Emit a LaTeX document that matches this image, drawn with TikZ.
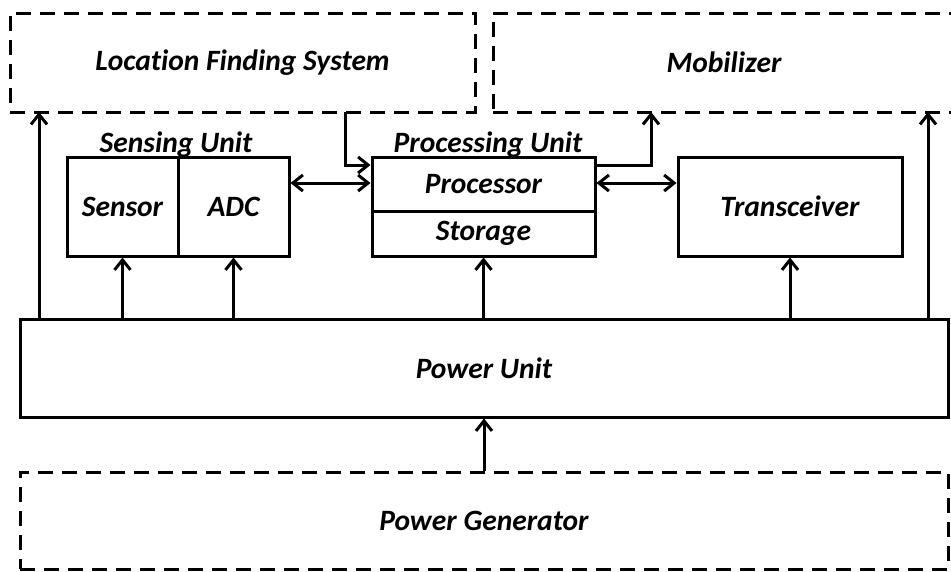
\documentclass[tikz,border=0pt]{standalone}
\usepackage{fontspec}
\setmainfont[Ligatures=NoCommon]{Carlito}
\usetikzlibrary{arrows.meta}
\begin{document}
\begin{tikzpicture}[x=1pt,y=-1pt, line width=3pt,
  txt/.style={font=\bfseries\itshape\fontsize{29.5}{34}\selectfont},
  box/.style={draw, rectangle, inner sep=0pt, txt},
  dbox/.style={box, dash pattern=on 15pt off 9pt},
  tip/.tip={Straight Barb[length=10pt,width=16pt,line width=3pt]},
  arr/.style={-tip},
  darr/.style={tip-tip}]
\useasboundingbox (0,0) rectangle (951,571);
% outer dashed units
\node[dbox, minimum width=465pt, minimum height=99pt] (lfs) at (242.5,62.5) {Location Finding System};
\node[dbox, minimum width=462pt, minimum height=99pt] (mob) at (724,62.5) {Mobilizer};
\node[dbox, minimum width=928pt, minimum height=97pt] (pg) at (484,520.5) {Power Generator};
% inner units
\node[box, minimum width=111pt, minimum height=99pt] (sensor) at (122.5,206.5) {Sensor};
\node[box, minimum width=111pt, minimum height=99pt] (adc) at (233.5,206.5) {ADC};
\node[box, minimum width=223pt, minimum height=54pt] (proc) at (483.5,184) {Processor};
\node[box, minimum width=223pt, minimum height=45pt] (stor) at (483.5,233.5) {Storage};
\node[box, minimum width=224pt, minimum height=99pt] (trx) at (790,206.5) {Transceiver};
\node[box, minimum width=928pt, minimum height=98pt] (pu) at (484,368) {Power Unit};
% group labels
\node[txt, anchor=base, inner sep=0pt] (senslbl) at (176,152) {Sensing Unit};
\node[txt, anchor=base, inner sep=0pt] (proclbl) at (488,152) {Processing Unit};
% connector points
\coordinate (lfsout) at (345,112);
\coordinate (lfsin) at (39,112);
\coordinate (mobin1) at (651,112);
\coordinate (mobin2) at (928,112);
% power distribution
\draw[arr] (pu.north -| lfsin) -- (lfsin);
\draw[arr] (pu.north -| mobin2) -- (mobin2);
\draw[arr] (pu.north -| sensor.south) -- (sensor.south);
\draw[arr] (pu.north -| adc.south) -- (adc.south);
\draw[arr] (pu.north -| stor.south) -- (stor.south);
\draw[arr] (pu.north -| trx.south) -- (trx.south);
\draw[arr] (pg.north) -- (pu.south);
% data links
\draw[darr] (adc.east |- 0,183) -- (proc.west |- 0,183);
\draw[darr] (proc.east |- 0,183) -- (trx.west |- 0,183);
\draw[arr] (lfsout) |- (proc.west |- 0,165);
\draw[arr] (proc.east |- 0,165) -| (mobin1);
\end{tikzpicture}
\end{document}
